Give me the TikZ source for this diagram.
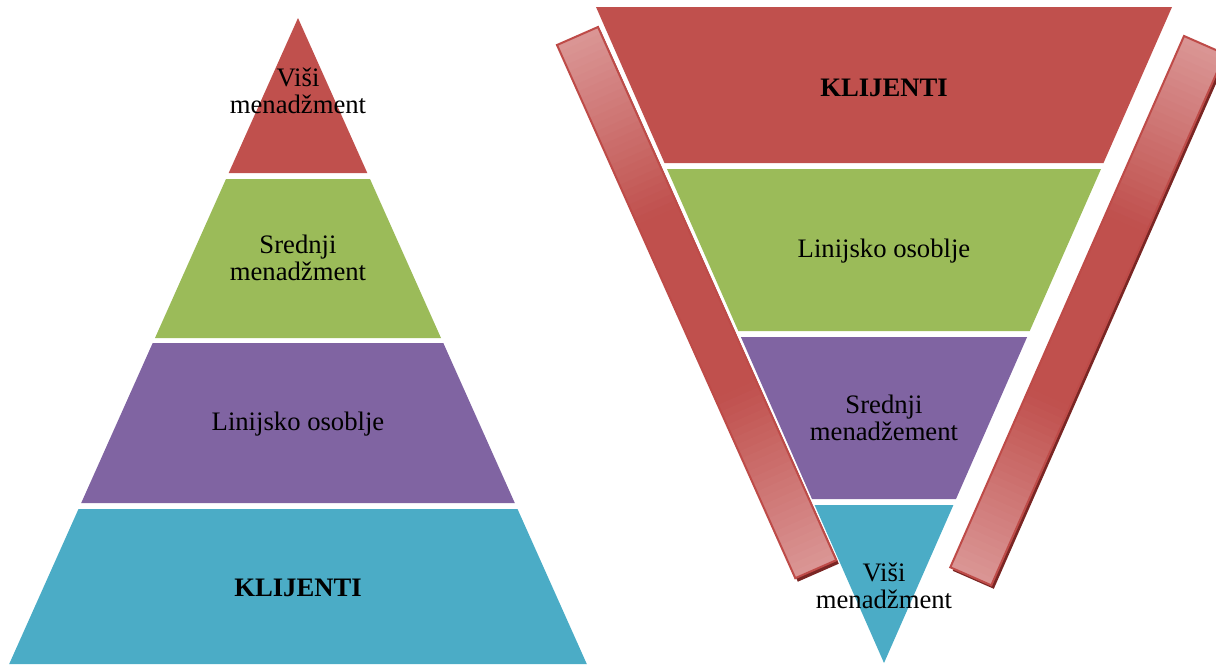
\documentclass[tikz,border=0pt]{standalone}
\usepackage{fontspec}
\setmainfont{Liberation Serif}
\usetikzlibrary{calc}
\definecolor{lvred}{RGB}{192,80,77}
\definecolor{lvgreen}{RGB}{155,187,89}
\definecolor{lvpurple}{RGB}{128,100,162}
\definecolor{lvteal}{RGB}{75,172,198}
\definecolor{barlight}{RGB}{218,150,149}
\definecolor{barborder}{RGB}{190,75,72}
\definecolor{barshadow}{RGB}{122,38,36}
\tikzset{
  lbl/.style={font=\fontsize{20}{20}\selectfont, align=center, text=black, inner sep=0pt},
  boldlbl/.style={lbl, font=\fontsize{20}{20}\selectfont\bfseries},
}
\begin{document}
\begin{tikzpicture}[x=0.75pt,y=-0.75pt]
\useasboundingbox (0,0) rectangle (1216,664);
\clip (0,0) rectangle (1216,664);

% ---------- left pyramid ----------
\fill[lvred]    (298,18) -- (367.3,173) -- (228.7,173) -- cycle;
\fill[lvgreen]  (226,179) -- (370,179) -- (441,338) -- (155,338) -- cycle;
\fill[lvpurple] (152.7,343) -- (443.3,343) -- (514.8,503) -- (81.2,503) -- cycle;
\fill[lvteal]   (78.5,509) -- (517.5,509) -- (586.8,664) -- (9.2,664) -- cycle;

\node[lbl] (l1) at (298,91) {Viši\\menadžment};
\node[lbl] (l2) at (298,258) {Srednji\\menadžment};
\node[lbl] (l3) at (298,424) {Linijsko osoblje};
\node[boldlbl] (l4) at (298,588) {KLIJENTI};

% ---------- right funnel ----------
\fill[lvred]    (596,7) -- (1172,7) -- (1103.5,163) -- (664.5,163) -- cycle;
\fill[lvgreen]  (667,169) -- (1101,169) -- (1029.7,331) -- (738.3,331) -- cycle;
\fill[lvpurple] (740.9,337) -- (1027.1,337) -- (956,499) -- (812,499) -- cycle;
\fill[lvteal]   (814.6,505) -- (953.4,505) -- (884,663) -- cycle;

% ---------- bars ----------
\coordinate (LTL) at (557,45);
\coordinate (LTR) at (598,27);
\coordinate (LBR) at (836.3,560.2);
\coordinate (LBL) at (795.3,578.2);
\coordinate (RTL) at (1184,36);
\coordinate (RTR) at (1225,54);
\coordinate (RBR) at (991.3,585.3);
\coordinate (RBL) at (950.3,567.3);

\foreach \A/\B/\C/\D in {LTL/LTR/LBR/LBL, RTL/RTR/RBR/RBL}{
  \fill[barshadow] ([shift={(2.5,3.5)}]\A) -- ([shift={(2.5,3.5)}]\B) -- ([shift={(2.5,3.5)}]\C) -- ([shift={(2.5,3.5)}]\D) -- cycle;
  \begin{scope}
    \clip (\A) -- (\B) -- (\C) -- (\D) -- cycle;
    \foreach \i in {0,...,79}{
      \pgfmathsetmacro\ta{\i/80}
      \pgfmathsetmacro\tb{min(1,(\i+1.5)/80)}
      \pgfmathtruncatemacro\f{min(100,150*(1-abs(2*(\i+0.5)/80-1)))}
      \fill[lvred!\f!barlight] ($(\A)!\ta!(\D)$) -- ($(\B)!\ta!(\C)$) -- ($(\B)!\tb!(\C)$) -- ($(\A)!\tb!(\D)$) -- cycle;
    }
  \end{scope}
  \draw[barborder, line width=1.5pt, line join=miter] (\A) -- (\B) -- (\C) -- (\D) -- cycle;
}

\node[boldlbl] (r1) at (884,88) {KLIJENTI};
\node[lbl] (r2) at (884,251) {Linijsko osoblje};
\node[lbl] (r3) at (884,418) {Srednji\\menadžement};
\node[lbl] (r4) at (884,586) {Viši\\menadžment};
\end{tikzpicture}
\end{document}
